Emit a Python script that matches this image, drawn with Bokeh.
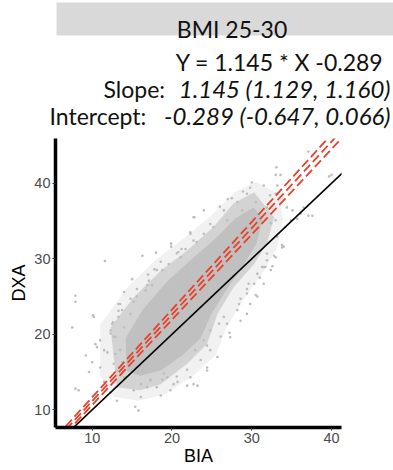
from bokeh.plotting import figure
from bokeh.models import Range1d, FixedTicker
from bokeh.core.properties import value
from bokeh.embed import file_html
from bokeh.resources import INLINE

# ---------------- data ----------------
panel_title = "BMI 25-30"
slope = 1.145
slope_ci = (1.129, 1.160)
intercept = -0.289
intercept_ci = (-0.647, 0.066)

x_label = "BIA"
y_label = "DXA"
x_ticks = [10, 20, 30, 40]
y_ticks = [10, 20, 30, 40]
x_limits = (5.4, 41.25)
y_limits = (7.66, 45.92)

# dense core of the point cloud (outline)
core_x = [14.2, 16.3, 19.3, 22.3, 25.4, 27.9, 30.2, 31.4,
          30.6, 29.0, 26.9, 25.0, 23.6, 21.4, 18.6, 16.0, 14.3]
core_y = [19.5, 23.2, 26.9, 29.8, 32.6, 35.3, 36.8, 35.4,
          32.0, 29.2, 26.0, 22.8, 19.5, 17.3, 15.2, 14.5, 15.2]

# medium-density zone around the core
mid_x = [12.3, 15.2, 18.6, 21.9, 25.2, 27.7, 30.3, 32.8,
         31.9, 30.3, 27.7, 25.7, 24.4, 21.9, 18.6, 16.0, 13.1]
mid_y = [20.9, 24.9, 28.4, 31.1, 34.2, 37.3, 38.8, 35.5,
         32.0, 29.3, 26.2, 22.7, 18.7, 16.1, 13.4, 12.6, 13.0]

# sparse outer fringe
halo_x = [11.0, 11.0, 14.5, 18.0, 21.5, 25.0, 27.7, 30.5, 33.5, 33.9,
          33.2, 31.3, 28.9, 26.9, 25.5, 22.8, 19.0, 15.8, 12.8]
halo_y = [14.5, 21.3, 26.3, 29.9, 32.7, 35.8, 38.7, 40.2, 38.5, 35.2,
          31.5, 28.0, 24.5, 21.0, 17.3, 14.6, 12.0, 11.2, 11.7]

# scattered individual points
pts_x = [11.6, 16.3, 18.0, 19.9, 19.9, 22.7, 18.6, 17.0, 20.8, 22.3,
         37.1, 33.1, 33.6, 33.0, 39.7, 30.0, 29.8, 27.5, 27.0, 22.8,
         24.0, 34.4, 35.1, 36.5, 37.1, 36.1, 35.7, 34.9, 34.2, 33.8,
         32.8, 31.9, 32.6, 31.5, 33.2, 33.0, 32.3, 7.9, 7.9, 7.5,
         10.1, 13.5, 12.3, 12.7, 11.0, 10.6, 11.9, 9.2, 10.0, 11.0,
         9.6, 7.9, 8.3, 11.5, 12.3, 13.1, 15.2, 16.1, 15.4, 15.8,
         17.3, 16.9, 15.6, 14.8, 13.3, 12.9, 13.8, 13.1, 14.2, 19.0,
         20.7, 23.2, 18.6, 24.4, 22.9, 24.0, 26.5, 28.4, 28.6, 29.6,
         29.4, 25.9, 24.8, 30.7, 31.7, 40.0, 37.6, 21.9, 13.3, 15.0,
         14.0, 17.8, 21.2, 26.0, 28.9, 31.0, 34.0, 12.6, 30.5, 27.2,
         10.2, 12.3, 13.3, 14.0, 15.2, 17.1, 18.1, 20.6, 22.3, 23.1,
         24.8, 26.5, 28.2, 29.4, 31.5, 33.2, 33.8, 32.4, 31.5, 29.8,
         28.6, 27.3, 25.7, 24.4, 22.3, 20.2, 18.1, 16.1, 14.0, 12.7,
         11.5, 10.4, 16.5, 19.4, 29.4, 30.7, 33.0, 32.4,
         13.75, 14.8, 15.6, 16.7, 17.5, 18.8, 19.6, 21.1, 21.7, 22.7,
         24.0, 25.2, 26.9, 28.8, 30.5, 31.9, 33.0, 33.2, 31.9, 31.3,
         30.3, 29.4, 28.2, 26.9, 26.1, 24.8, 23.6, 21.9, 20.6, 18.8,
         17.3, 15.4, 14.4, 13.5, 12.9, 12.5, 16.9, 19.8, 22.7, 24.4]
pts_y = [29.7, 30.4, 30.8, 32.0, 31.6, 35.5, 29.6, 27.9, 30.9, 33.5,
         44.2, 42.1, 41.1, 41.1, 40.9, 40.1, 39.4, 38.0, 37.9, 35.5,
         36.4, 36.8, 36.4, 36.8, 35.7, 36.0, 35.3, 35.1, 34.2, 31.8,
         30.4, 29.8, 29.0, 28.9, 39.7, 38.6, 38.4, 25.1, 24.3, 20.9,
         22.5, 24.0, 20.5, 19.7, 19.2, 18.3, 17.6, 17.2, 16.3, 15.6,
         15.0, 12.8, 12.6, 13.7, 12.3, 11.2, 12.6, 11.7, 10.4, 9.9,
         13.9, 26.5, 26.0, 24.7, 22.3, 17.4, 16.3, 15.2, 14.3, 14.8,
         13.7, 13.2, 11.9, 18.5, 17.9, 19.2, 22.3, 24.0, 24.7, 26.7,
         26.0, 21.4, 20.5, 28.0, 28.9, 41.1, 35.7, 13.2, 23.1, 27.3,
         25.6, 28.6, 31.3, 36.9, 38.9, 27.5, 31.6, 21.6, 25.2, 20.2,
         22.3, 20.1, 24.0, 20.9, 24.3, 27.1, 28.5, 30.7, 33.3, 32.2,
         34.6, 36.4, 37.5, 38.6, 39.7, 38.6, 31.5, 28.5, 26.7, 24.0,
         21.8, 19.6, 17.0, 15.6, 14.3, 13.4, 13.0, 13.4, 14.3, 16.1,
         17.9, 18.7, 15.1, 14.3, 22.7, 25.0, 30.2, 34.7,
         23.2, 22.7, 25.0, 25.8, 26.5, 28.5, 29.3, 30.2, 31.3, 32.4,
         33.3, 34.2, 35.1, 36.4, 37.5, 36.8, 35.1, 32.9, 30.7, 28.9,
         26.7, 25.4, 23.2, 21.4, 19.7, 17.9, 16.6, 15.3, 14.4, 14.0,
         14.0, 14.9, 16.2, 17.9, 19.6, 21.4, 13.0, 12.6, 13.4, 15.2]

# ---------------- header (separate root, drawn in pixel-like units) ----------------
fmt = lambda v: f"{v:.3f}"
line_eq = f"Y =  {fmt(slope)} * X {fmt(intercept)}"
slope_txt = f"{fmt(slope)} ({fmt(slope_ci[0])}, {fmt(slope_ci[1])})"
int_txt = f"{fmt(intercept)} ({fmt(intercept_ci[0])}, {fmt(intercept_ci[1])})"

HW, HH = 393, 135
head = figure(width=HW, height=HH, x_range=Range1d(0, HW), y_range=Range1d(HH, 0),
              x_axis_type=None, y_axis_type=None, output_backend="svg",
              toolbar_location=None, min_border=0)
head.outline_line_color = None
head.quad(left=[56], right=[HW + 5], top=[2], bottom=[35], color="#d9d9d9", line_color=None)

font = value("Lato")
def htext(x, y, t, align, style="normal", fs="23px"):
    head.text(x=[x], y=[y], text=[t], text_align=align, text_baseline="alphabetic",
              text_font=font, text_font_size=fs, text_font_style=style, text_color="#111111")

htext(231.5, 28, panel_title, "center")
htext(389, 61, line_eq, "right")
htext(103, 88, "Slope:", "left")
htext(390, 88, slope_txt, "right", "italic", "24px")
htext(49, 115, "Intercept:", "left")
htext(390, 115, int_txt, "right", "italic", "24px")

# ---------------- scatter panel ----------------
p = figure(width=393, height=335, x_range=Range1d(*x_limits), y_range=Range1d(*y_limits),
           output_backend="svg", toolbar_location=None,
           min_border_left=55, min_border_right=52, min_border_top=3, min_border_bottom=43)
p.outline_line_color = None
p.xgrid.visible = False
p.ygrid.visible = False

gray = "#c0c0c0"
p.patch(halo_x, halo_y, fill_color=gray, fill_alpha=0.22, line_color=None)
p.patch(mid_x, mid_y, fill_color=gray, fill_alpha=0.62, line_color=None)
p.patch(core_x, core_y, fill_color=gray, fill_alpha=1.0, line_color=None)
p.scatter(pts_x, pts_y, size=2.6, color="#bdbdbd", line_color=None)

lx = [x_limits[0] - 2, x_limits[1] + 2]
p.line(lx, lx, line_color="black", line_width=1.6)
red = "#e8402a"
for s, b in [(slope, intercept), (slope_ci[0], intercept_ci[0]), (slope_ci[1], intercept_ci[1])]:
    p.line(lx, [s * v + b for v in lx], line_color=red, line_width=1.8, line_dash="9 4")

for ax in (p.xaxis[0], p.yaxis[0]):
    ax.axis_line_width = 3.5
    ax.axis_line_color = "black"
    ax.major_tick_line_color = "#333333"
    ax.major_tick_line_width = 1
    ax.major_tick_out = 3
    ax.major_tick_in = 0
    ax.minor_tick_line_color = None
    ax.major_label_text_font = "Liberation Sans"
    ax.major_label_text_font_size = "14.5px"
    ax.major_label_text_color = "#4d4d4d"
    ax.axis_label_text_font = "Liberation Sans"
    ax.axis_label_text_font_size = "18px"
    ax.axis_label_text_font_style = "normal"
    ax.axis_label_text_color = "black"

p.xaxis.ticker = FixedTicker(ticks=x_ticks)
p.yaxis.ticker = FixedTicker(ticks=y_ticks)
p.xaxis.axis_label = x_label
p.yaxis.axis_label = y_label
p.xaxis.major_label_standoff = 2
p.yaxis.major_label_standoff = 2
p.xaxis.axis_label_standoff = 0
p.yaxis.axis_label_standoff = 2

open("out.html", "w").write(file_html([head, p], INLINE))
